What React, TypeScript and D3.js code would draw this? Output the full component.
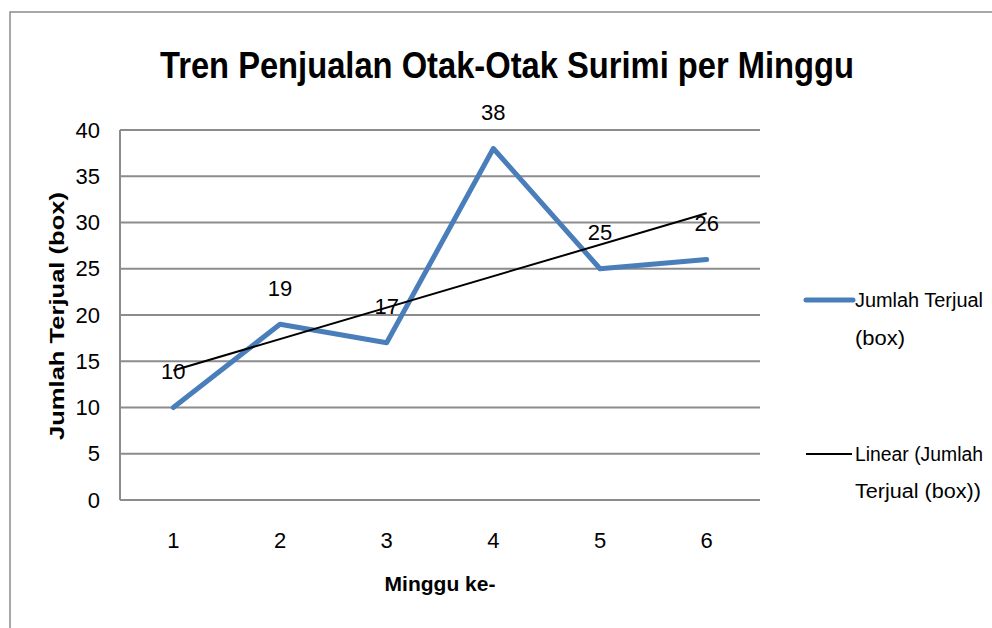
import React from 'react'
import * as d3 from 'd3'

const weeks = [1, 2, 3, 4, 5, 6]
const sold = [10, 19, 17, 38, 25, 26]
const yTicks = [0, 5, 10, 15, 20, 25, 30, 35, 40]

const FONT = '"Liberation Sans Narrow", "Liberation Sans", Arial, sans-serif'

// least squares fit, like Excel's linear trendline
function linearFit(xs: number[], ys: number[]) {
  const mx = d3.mean(xs) as number
  const my = d3.mean(ys) as number
  let sxy = 0
  let sxx = 0
  xs.forEach((x, i) => {
    sxy += (x - mx) * (ys[i] - my)
    sxx += (x - mx) * (x - mx)
  })
  const slope = sxy / sxx
  return { slope, intercept: my - slope * mx }
}

const App = () => {
  const width = 992
  const height = 628
  const plot = { left: 120, right: 760, top: 130, bottom: 500 }

  const x = d3.scaleBand<number>()
    .domain(weeks)
    .range([plot.left, plot.right])
  const cx = (w: number) => (x(w) as number) + x.bandwidth() / 2

  const y = d3.scaleLinear()
    .domain([0, 40])
    .range([plot.bottom, plot.top])

  const line = d3.line<number>()
    .x((d, i) => cx(weeks[i]))
    .y((d) => y(d))

  const fit = linearFit(weeks, sold)
  const first = weeks[0]
  const last = weeks[weeks.length - 1]
  const trend = [
    [cx(first), y(fit.intercept + fit.slope * first)],
    [cx(last), y(fit.intercept + fit.slope * last)],
  ] as [number, number][]

  return (
    <svg width={width} height={height} style={{ position: 'absolute', left: 0, top: 0 }} fontFamily={FONT}>
      <rect x={0} y={0} width={width} height={height} fill="#fff" />
      <rect x={10} y={12} width={1100} height={700} fill="none" stroke="#8c8c8c" strokeWidth={1.5} />

      <text x={507} y={78} textAnchor="middle" fontSize={37} fontWeight="bold" fill="#000"
        textLength={694} lengthAdjust="spacingAndGlyphs">
        Tren Penjualan Otak-Otak Surimi per Minggu
      </text>

      {yTicks.map((t) => (
        <g key={t}>
          <line x1={plot.left} x2={plot.right} y1={y(t)} y2={y(t)} stroke="#8c8c8c" strokeWidth={2} />
          <text x={100} y={y(t)} dy="0.35em" textAnchor="end" fontSize={22} fill="#000">{t}</text>
        </g>
      ))}
      <line x1={plot.left} x2={plot.left} y1={plot.top} y2={plot.bottom} stroke="#8c8c8c" strokeWidth={2} />

      {weeks.map((w) => (
        <text key={w} x={cx(w)} y={540} dy="0.35em" textAnchor="middle" fontSize={22} fill="#000">{w}</text>
      ))}

      <text x={440} y={584} dy="0.35em" textAnchor="middle" fontSize={21} fontWeight="bold" fill="#000">
        Minggu ke-
      </text>
      <text transform="translate(57,316) rotate(-90)" dy="0.35em" textAnchor="middle" fontSize={21}
        fontWeight="bold" fill="#000" textLength={248} lengthAdjust="spacingAndGlyphs">
        Jumlah Terjual (box)
      </text>

      <path d={line(sold) as string} fill="none" stroke="#4a7ebb" strokeWidth={5} strokeLinejoin="round" strokeLinecap="round" />
      <path d={d3.line()(trend) as string} fill="none" stroke="#000" strokeWidth={2} />

      {sold.map((v, i) => (
        <text key={i} x={cx(weeks[i])} y={y(v) - 36} dy="0.35em" textAnchor="middle" fontSize={22} fill="#000">{v}</text>
      ))}

      <line x1={806} x2={853} y1={300} y2={300} stroke="#4a7ebb" strokeWidth={5} strokeLinecap="round" />
      <text x={855} y={300} dy="0.35em" fontSize={20} fill="#000" textLength={128} lengthAdjust="spacingAndGlyphs">Jumlah Terjual</text>
      <text x={855} y={338} dy="0.35em" fontSize={20} fill="#000" textLength={50} lengthAdjust="spacingAndGlyphs">(box)</text>

      <line x1={806} x2={852} y1={454} y2={454} stroke="#000" strokeWidth={2} />
      <text x={855} y={454} dy="0.35em" fontSize={20} fill="#000" textLength={128} lengthAdjust="spacingAndGlyphs">Linear (Jumlah</text>
      <text x={855} y={491} dy="0.35em" fontSize={20} fill="#000" textLength={126} lengthAdjust="spacingAndGlyphs">Terjual (box))</text>
    </svg>
  )
}

export default App
